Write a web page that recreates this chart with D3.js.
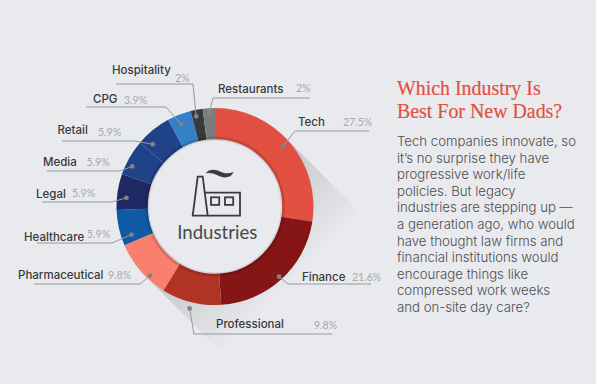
<!DOCTYPE html>
<html>
<head>
<meta charset="utf-8">
<script src="https://cdn.jsdelivr.net/npm/d3@7"></script>
<style>
	html, body { margin: 0; padding: 0; background: #e9eaee; }
	svg { display: block; }
	.name { font-family: Inter, sans-serif; font-size: 11.5px; font-weight: 500; fill: #37383a; }
	.value { font-family: Lato, sans-serif; font-size: 10.5px; fill: #a7a8ab; }
	.leader { fill: none; stroke: #98999c; stroke-width: 1; }
	.title { font-family: "Liberation Serif", serif; font-size: 19.9px; fill: #e25041; stroke: #e25041; stroke-width: 0.2px; }
	.body { font-family: Inter, sans-serif; font-size: 13.2px; font-weight: 300; fill: #4c4d51; }
</style>
</head>
<body>
<svg id="chart" width="596" height="384"></svg>
<script>
	var industries = ["Tech", "Finance", "Professional", "Pharmaceutical", "Healthcare", "Legal", "Media", "Retail", "CPG", "Hospitality", "Restaurants"];
	var shares = [27.5, 21.6, 9.8, 9.8, 5.9, 5.9, 5.9, 5.9, 3.9, 2, 2];
	var colors = ["#e25041", "#861516", "#b13325", "#f9806e", "#0f5aa2", "#1f2a64", "#1f4289", "#1f4289", "#3581c8", "#38393b", "#7b7c7e"];

	var titleLines = ["Which Industry Is", "Best For New Dads?"];
	var bodyLines = [
		"Tech companies innovate, so",
		"it\u2019s no surprise they have",
		"progressive work/life",
		"policies. But legacy",
		"industries are stepping up \u2014",
		"a generation ago, who would",
		"have thought law firms and",
		"financial institutions would",
		"encourage things like",
		"compressed work weeks",
		"and on-site day care?"
	];

	// 标注位置 (callout layout, same order as industries)
	var dotRadius = [91, 95, 105, 95, 88, 89, 92, 88, 89, 92, 93];
	var dotShift = [-1, 0, 0, -6, -6, -3, -4, -6, -1, -1, 0];
	var leaderBend = [[295, 131], [288, 284], [194, 334], [140, 284], [112, 243], [112, 202], [120, 171], [135, 141], [166, 107], [193, 84], [213, 98]];
	var leaderEnd = [369, 371, 332, 34, 37, 42, 47, 62, 86, 116, 310];
	var namePos = [[298, 126], [302, 281], [216, 328], [18, 279], [24, 241], [36, 198], [43, 166], [57.5, 134], [93, 103], [112, 74], [218, 93]];
	var valuePos = [[343, 126], [352, 281], [314, 329], [108, 279], [87, 238], [72, 197], [86.5, 166], [98, 136], [124, 104], [175, 82], [296, 92]];

	var cx = 215, cy = 206.5, outerR = 98.5, innerR = 66.5;

	var svg = d3.select("#chart");
	var defs = svg.append("defs");

	//长投影
	var reach = 110, u = Math.SQRT1_2;
	var grad = defs.append("linearGradient")
		.attr("id", "longShadow")
		.attr("gradientUnits", "userSpaceOnUse")
		.attr("x1", cx).attr("y1", cy)
		.attr("x2", cx + reach * u).attr("y2", cy + reach * u);
	grad.append("stop").attr("offset", 0).attr("stop-color", "#c2c3c7");
	grad.append("stop").attr("offset", 1).attr("stop-color", "#e9eaee");

	var a = [cx + outerR * u, cy - outerR * u],
		b = [cx - outerR * u, cy + outerR * u];
	svg.append("polygon")
		.attr("points", [a, [a[0] + reach * u, a[1] + reach * u], [b[0] + reach * u, b[1] + reach * u], b].join(" "))
		.attr("fill", "url(#longShadow)");

	var pie = d3.pie().sort(null).value(function(d) { return d; });
	var slices = pie(shares);
	var arc = d3.arc().innerRadius(innerR).outerRadius(outerR);

	var ring = svg.append("g").attr("transform", "translate(" + cx + "," + cy + ")");

	ring.selectAll(".slice")
		.data(slices)
		.enter().append("path")
		.attr("class", "slice")
		.attr("d", arc)
		.style("fill", function(d, i) { return colors[i]; });

	// darker band round the hole
	ring.append("circle").attr("r", innerR + 3.5).attr("fill", "#000").attr("opacity", 0.13);
	ring.append("circle").attr("r", innerR)
		.attr("fill", "#e9eaee")
		.attr("stroke", "#d2d3d6")
		.attr("stroke-width", 1.4);

	function dotAt(d, i) {
		var t = (d.startAngle + d.endAngle) / 2 + dotShift[i] * Math.PI / 180;
		return [cx + dotRadius[i] * Math.sin(t), cy - dotRadius[i] * Math.cos(t)];
	}

	var callouts = svg.append("g");

	callouts.selectAll(".leader")
		.data(slices)
		.enter().append("polyline")
		.attr("class", "leader")
		.attr("points", function(d, i) {
			var bend = leaderBend[i];
			return [dotAt(d, i), bend, [leaderEnd[i], bend[1]]].join(" ");
		});

	callouts.selectAll(".dot")
		.data(slices)
		.enter().append("circle")
		.attr("class", "dot")
		.attr("cx", function(d, i) { return dotAt(d, i)[0]; })
		.attr("cy", function(d, i) { return dotAt(d, i)[1]; })
		.attr("r", 2.4)
		.attr("fill", "#808285");

	callouts.selectAll(".name")
		.data(industries)
		.enter().append("text")
		.attr("class", "name")
		.attr("x", function(d, i) { return namePos[i][0]; })
		.attr("y", function(d, i) { return namePos[i][1]; })
		.text(function(d) { return d; });

	callouts.selectAll(".value")
		.data(shares)
		.enter().append("text")
		.attr("class", "value")
		.attr("x", function(d, i) { return valuePos[i][0]; })
		.attr("y", function(d, i) { return valuePos[i][1]; })
		.text(function(d) { return d + "%"; });

	// factory icon
	var icon = svg.append("g")
		.attr("fill", "none")
		.attr("stroke", "#3a3b3d")
		.attr("stroke-width", 1.8);
	icon.append("path").attr("d", "M192.7 215.7 L197.7 176.7 L202.7 176.7 L207.7 215.7 Z");
	icon.append("path").attr("d", "M204.5 192.7 L240 192.7 L240 215.7 L207.7 215.7");
	icon.append("rect").attr("x", 211).attr("y", 197.3).attr("width", 8.2).attr("height", 7.6);
	icon.append("rect").attr("x", 225).attr("y", 197.3).attr("width", 8.2).attr("height", 7.6);
	svg.append("path")
		.attr("d", "M205.5 173.5 C209 168.5 216 169.5 220 171.5 C225 174 229 173.5 233.5 172 C231 178 224 178.5 219 176 C214 173.5 210 172.5 205.5 173.5 Z")
		.attr("fill", "#3a3b3d");

	svg.append("text")
		.attr("x", 217.3).attr("y", 239)
		.attr("text-anchor", "middle")
		.style("font-family", "Lato, sans-serif")
		.style("font-size", "18.6px")
		.style("fill", "#46474a")
		.text("Industries");

	svg.selectAll(".title")
		.data(titleLines)
		.enter().append("text")
		.attr("class", "title")
		.attr("x", 397)
		.attr("y", function(d, i) { return 95 + i * 22.7; })
		.text(function(d) { return d; });

	svg.selectAll(".body")
		.data(bodyLines)
		.enter().append("text")
		.attr("class", "body")
		.attr("x", 397)
		.attr("y", function(d, i) { return 146 + i * 16.6; })
		.text(function(d) { return d; });
</script>
</body>
</html>
